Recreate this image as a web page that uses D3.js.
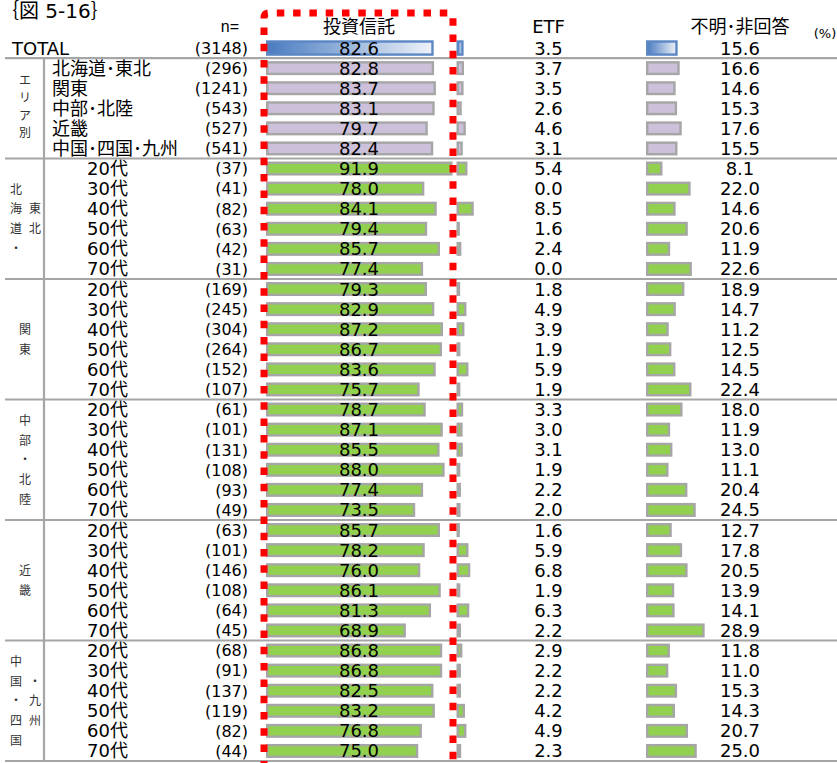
<!DOCTYPE html>
<html lang="ja">
<head>
<meta charset="utf-8">
<script src="https://cdn.jsdelivr.net/npm/d3@7/dist/d3.min.js"></script>
<style>
  html, body { margin: 0; padding: 0; background: #fff; }
  svg { display: block; }
  text { font-family: "DejaVu Sans", "Noto Sans CJK JP", sans-serif; fill: #000; }
  .nsize { font-family: "Liberation Sans", "Noto Sans CJK JP", sans-serif; }
</style>
</head>
<body>
<svg id="chart" width="837" height="763"></svg>
<script>
// Row structure: TOTAL, five regions, then six age bands inside each region
const chartTitle = "｛図 5-16｝";
const columnHeaders = ["投資信託", "ETF", "不明･非回答"];
const areaNames = ["北海道･東北", "関東", "中部･北陸", "近畿", "中国･四国･九州"];
const ageBands = ["20代", "30代", "40代", "50代", "60代", "70代"];
// Vertical captions of each block, one string per text column (left to right)
const groupCaptions = [["エリア別"], ["北海道・", "東北"], ["関東"], ["中部・北陸"], ["近畿"], ["中国・四国", "・九州"]];

const sampleSizes = [3148,
  296, 1241, 543, 527, 541,
  37, 41, 82, 63, 42, 31,
  169, 245, 304, 264, 152, 107,
  61, 101, 131, 108, 93, 49,
  63, 101, 146, 108, 64, 45,
  68, 91, 137, 119, 82, 44];

const trustShare = [82.6,
  82.8, 83.7, 83.1, 79.7, 82.4,
  91.9, 78.0, 84.1, 79.4, 85.7, 77.4,
  79.3, 82.9, 87.2, 86.7, 83.6, 75.7,
  78.7, 87.1, 85.5, 88.0, 77.4, 73.5,
  85.7, 78.2, 76.0, 86.1, 81.3, 68.9,
  86.8, 86.8, 82.5, 83.2, 76.8, 75.0];

const etfShare = [3.5,
  3.7, 3.5, 2.6, 4.6, 3.1,
  5.4, 0.0, 8.5, 1.6, 2.4, 0.0,
  1.8, 4.9, 3.9, 1.9, 5.9, 1.9,
  3.3, 3.0, 3.1, 1.9, 2.2, 2.0,
  1.6, 5.9, 6.8, 1.9, 6.3, 2.2,
  2.9, 2.2, 2.2, 4.2, 4.9, 2.3];

const unknownShare = [15.6,
  16.6, 14.6, 15.3, 17.6, 15.5,
  8.1, 22.0, 14.6, 20.6, 11.9, 22.6,
  18.9, 14.7, 11.2, 12.5, 14.5, 22.4,
  18.0, 11.9, 13.0, 11.1, 20.4, 24.5,
  12.7, 17.8, 20.5, 13.9, 14.1, 28.9,
  11.8, 11.0, 15.3, 14.3, 20.7, 25.0];

// ---- build row records ----
const rows = [];
rows.push({label: "TOTAL", kind: "total"});
areaNames.forEach(a => rows.push({label: a, kind: "area"}));
areaNames.forEach(() => ageBands.forEach(b => rows.push({label: b, kind: "age"})));
rows.forEach((r, i) => {
  r.i = i;
  r.n = sampleSizes[i];
  r.values = [trustShare[i], etfShare[i], unknownShare[i]];
});

// block ranges (first row index, row count) for captions and separators
const blocks = [{start: 1, count: 5}];
areaNames.forEach((_, k) => blocks.push({start: 6 + k * 6, count: 6}));

const svg = d3.select("#chart");
const W = 837;

const y = d3.scaleBand().domain(d3.range(rows.length)).range([38, 761]).padding(0);
const bw = y.bandwidth();
const x = d3.scaleLinear().domain([0, 100]).range([0, 203]);

const colStart = [266, 456.5, 646];
const colLabelX = [359, 548.5, 740];

const fills = {area: "#ccc0da", age: "#92d050"};
const grey = "#a6a6a6";

// gradient for the TOTAL bars
const defs = svg.append("defs");
const grad = defs.append("linearGradient").attr("id", "totalGrad")
  .attr("x1", "0%").attr("x2", "100%").attr("y1", "0%").attr("y2", "0%");
grad.append("stop").attr("offset", "0%").attr("stop-color", "#4a7cc0");
grad.append("stop").attr("offset", "100%").attr("stop-color", "#eef2f9");

// title
svg.append("text").attr("x", -1).attr("y", 17.5)
  .style("font-size", "20px").text(chartTitle);

// headers
svg.append("text").attr("class", "nsize").attr("x", 239).attr("y", 32).attr("text-anchor", "end")
  .style("font-size", "16px").text("n=");
columnHeaders.forEach((h, k) => {
  svg.append("text").attr("x", colLabelX[k]).attr("y", 33).attr("text-anchor", "middle")
    .style("font-size", "18px").text(h);
});
svg.append("text").attr("x", 825).attr("y", 38).attr("text-anchor", "middle")
  .style("font-size", "13px").text("(%)");

// separators
const sepRows = [0].concat(blocks.map(b => b.start + b.count - 1));
svg.append("g").selectAll("line").data(sepRows).join("line")
  .attr("x1", 5).attr("x2", W)
  .attr("y1", d => y(d) + bw).attr("y2", d => y(d) + bw)
  .attr("stroke", grey).attr("stroke-width", 2.2);
svg.append("line")
  .attr("x1", 44).attr("x2", 44)
  .attr("y1", y(1)).attr("y2", y(rows.length - 1) + bw)
  .attr("stroke", grey).attr("stroke-width", 2.2);

// block captions, written vertically
const capG = svg.append("g").style("font-size", "12px");
blocks.forEach((b, k) => {
  const cols = groupCaptions[k];
  const mid = (y(b.start) + y(b.start + b.count - 1) + bw) / 2 - (k === 0 ? 2 : 0);
  const step = k === 0 ? 17.5 : 19.7;
  const xs = cols.length === 1 ? [25] : [16, 35];
  cols.forEach((str, c) => {
    const chars = Array.from(str);
    chars.forEach((ch, j) => {
      capG.append("text")
        .attr("x", xs[c])
        .attr("y", mid + (j - (chars.length - 1) / 2) * step + 4.5)
        .attr("text-anchor", "middle")
        .style("fill", "#333")
        .text(ch);
    });
  });
});

// row labels and sample sizes
const labelG = svg.append("g").style("font-size", "18px");
labelG.selectAll("text.row").data(rows).join("text").attr("class", "row")
  .attr("x", d => d.kind === "total" ? 12 : d.kind === "area" ? 52 : 87)
  .attr("y", d => y(d.i) + bw / 2 + 6.5)
  .text(d => d.label);
svg.append("g").attr("class", "nsize").style("font-size", "16px")
  .selectAll("text").data(rows).join("text")
  .attr("x", 248).attr("text-anchor", "end")
  .attr("y", d => y(d.i) + bw / 2 + 5.8)
  .text(d => "(" + d.n + ")");

// bars for the three answer columns
const sw = 2.4;
[0, 1, 2].forEach(k => {
  const g = svg.append("g");
  g.selectAll("rect").data(rows.filter(r => r.values[k] > 0)).join("rect")
    .attr("x", colStart[k] + sw / 2)
    .attr("width", d => Math.max(x(d.values[k]) - sw, 1))
    .attr("y", d => {
      const h = d.kind === "total" ? 15.5 : 14;
      return y(d.i) + bw / 2 - h / 2 + sw / 2;
    })
    .attr("height", d => (d.kind === "total" ? 15.5 : 14) - sw)
    .attr("fill", d => d.kind === "total" ? "url(#totalGrad)" : fills[d.kind])
    .attr("stroke", d => d.kind === "total" ? "#5b87c5" : grey)
    .attr("stroke-width", sw);

  g.selectAll("text").data(rows).join("text")
    .attr("x", colLabelX[k]).attr("text-anchor", "middle")
    .attr("y", d => y(d.i) + bw / 2 + 6.5)
    .style("font-size", "18px")
    .text(d => d.values[k].toFixed(1));
});

// red dotted highlight around the 投資信託 column
const L = 264, R = 453, T = 13, B = 800, rr = 5;
svg.append("path")
  .attr("d", `M${L},${B} V${T + rr} Q${L},${T} ${L + rr},${T} H${R - rr} Q${R},${T} ${R},${T + rr} V${B}`)
  .attr("fill", "none")
  .attr("stroke", "#ff0000")
  .attr("stroke-width", 7)
  .attr("stroke-dasharray", "7.5 8.8")
  .attr("stroke-dashoffset", 1);
</script>
</body>
</html>
